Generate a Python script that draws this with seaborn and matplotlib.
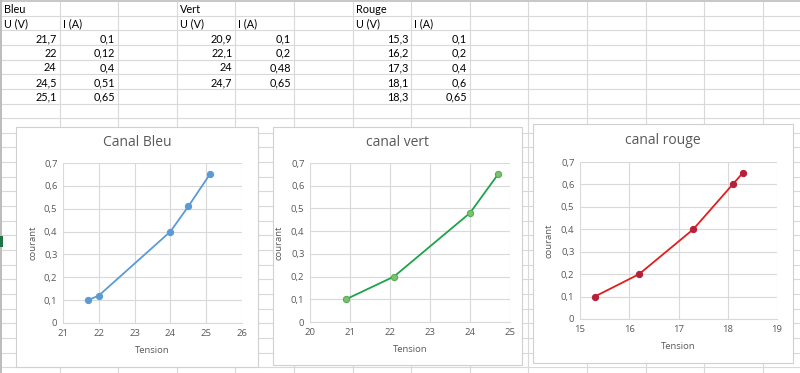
import matplotlib
matplotlib.use("Agg")
import matplotlib.pyplot as plt
import seaborn as sns
import pandas as pd
from matplotlib.patches import Rectangle
from matplotlib.lines import Line2D
from matplotlib.ticker import FuncFormatter

# data from the sheet
u_bleu = [21.7, 22, 24, 24.5, 25.1]
i_bleu = [0.1, 0.12, 0.4, 0.51, 0.65]
u_vert = [20.9, 22.1, 24, 24.7]
i_vert = [0.1, 0.2, 0.48, 0.65]
u_rouge = [15.3, 16.2, 17.3, 18.1, 18.3]
i_rouge = [0.1, 0.2, 0.4, 0.6, 0.65]

titles = ["Canal Bleu", "canal vert", "canal rouge"]
headers = ["Bleu", "Vert", "Rouge"]

sns.set_style("white")
plt.rcParams["font.family"] = ["Open Sans", "DejaVu Sans"]

W, H = 800, 373
fig = plt.figure(figsize=(8, 3.73), dpi=100)
fig.patch.set_facecolor("white")


def fx(px):
    return px / W


def fy(py):
    return 1 - py / H


# spreadsheet grid (behind everything)
col_w = 58.6
row_h = 14.65
for k in range(1, 14):
    x = 1 + k * col_w
    fig.add_artist(Line2D([fx(x), fx(x)], [0, fy(2)], color="#d9d9d9", lw=0.8, zorder=-5))
for k in range(1, 26):
    y = 1 + k * row_h
    fig.add_artist(Line2D([0, 1], [fy(y), fy(y)], color="#d9d9d9", lw=0.8, zorder=-5))
fig.add_artist(Rectangle((0, fy(2)), 1, 2 / H, color="#c8c8c8", lw=0, zorder=-4))
fig.add_artist(Rectangle((0, 0), 2 / W, 1, color="#bdbdbd", lw=0, zorder=-4))
fig.add_artist(Rectangle((0, fy(247)), 3 / W, 11 / H, color="#217346", lw=0, zorder=-4))


def fmt(v):
    return ("%g" % v).replace(".", ",")


def cell_text(col, row, s, right=False):
    x0 = 1 + col * col_w
    y = 1 + (row + 0.5) * row_h + 1
    if right:
        fig.text(fx(x0 + col_w - 3), fy(y), s, ha="right", va="center",
                 fontsize=7.8, color="#000000", family=["Lato", "DejaVu Sans"])
    else:
        fig.text(fx(x0 + 3), fy(y), s, ha="left", va="center",
                 fontsize=7.8, color="#000000", family=["Lato", "DejaVu Sans"])


tables = [(0, u_bleu, i_bleu), (3, u_vert, i_vert), (6, u_rouge, i_rouge)]
for (c, us, iss), h in zip(tables, headers):
    cell_text(c, 0, h)
    cell_text(c, 1, "U (V)")
    cell_text(c + 1, 1, "I (A)")
    for r, (u, i) in enumerate(zip(us, iss)):
        cell_text(c, r + 2, fmt(u), right=True)
        cell_text(c + 1, r + 2, fmt(i), right=True)

# chart boxes (px): box, plot area
charts = [
    ((16, 127, 258, 367), (63, 163, 242, 323), u_bleu, i_bleu,
     "#5B9BD5", "#5B9BD5", "#5B9BD5", (21, 26)),
    ((273, 127, 522, 365), (310, 163, 510, 322), u_vert, i_vert,
     "#1FA34A", "#7CC070", "#4FAE4F", (20, 25)),
    ((533, 124, 793, 363), (580, 162, 777, 319), u_rouge, i_rouge,
     "#E01E1E", "#B5213A", "#B5213A", (15, 19)),
]

for (box, pa, us, iss, lc, mc, mec, xl), title in zip(charts, titles):
    bx0, by0, bx1, by1 = box
    fig.add_artist(Rectangle((fx(bx0), fy(by1)), (bx1 - bx0) / W, (by1 - by0) / H,
                             facecolor="white", edgecolor="#d0d0d0", lw=0.8, zorder=-3))
    px0, py0, px1, py1 = pa
    ax = fig.add_axes([fx(px0), fy(py1), (px1 - px0) / W, (py1 - py0) / H])
    ax.set_zorder(1)
    df = pd.DataFrame({"Tension": us, "courant": iss})
    sns.lineplot(data=df, x="Tension", y="courant", ax=ax, color=lc, lw=1.3,
                 marker="o", markersize=4.5, markerfacecolor=mc,
                 markeredgecolor=mec, sort=False)
    ax.set_xlim(xl)
    ax.set_ylim(0, 0.7)
    ax.set_xticks(range(xl[0], xl[1] + 1))
    ax.set_yticks([0, 0.1, 0.2, 0.3, 0.4, 0.5, 0.6, 0.7])
    ax.yaxis.set_major_formatter(FuncFormatter(lambda v, p: fmt(round(v, 1))))
    ax.grid(True, color="#d9d9d9", lw=0.8)
    ax.set_axisbelow(True)
    for s in ["top", "right", "left"]:
        ax.spines[s].set_visible(False)
    ax.spines["bottom"].set_color("#d9d9d9")
    ax.tick_params(length=0, labelsize=6.8, colors="#595959", pad=4)
    ax.set_xlabel("Tension", fontsize=6.8, color="#595959", labelpad=6)
    ax.set_ylabel("courant", fontsize=6.8, color="#595959", labelpad=5)
    fig.text(fx((bx0 + bx1) / 2), fy(box[1] + 16), title, ha="center",
             va="center", fontsize=10, color="#595959")

fig.savefig("out.png", dpi=100)
